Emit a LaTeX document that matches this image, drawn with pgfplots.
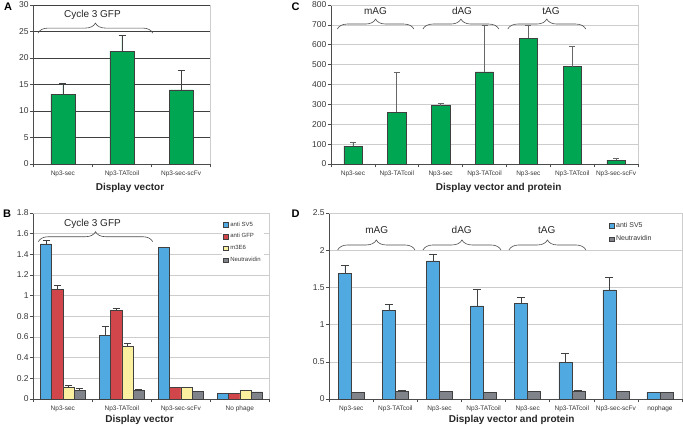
\documentclass[border=0pt]{standalone}
\usepackage{pgfplots}
\pgfplotsset{compat=1.18}
\usepackage{fontspec}
\setmainfont{Liberation Sans}
\usetikzlibrary{decorations.pathreplacing}
\definecolor{cgreen}{RGB}{0,166,81}
\definecolor{cblue}{RGB}{80,170,225}
\definecolor{cred}{RGB}{208,70,75}
\definecolor{cyellow}{RGB}{250,240,160}
\definecolor{cgray}{RGB}{128,132,138}
\definecolor{txt}{RGB}{55,55,55}
\definecolor{gridc}{RGB}{205,205,205}

\tikzset{
  brc/.style={decorate, decoration={brace, amplitude=10pt}, draw=black!70, line width=0.6pt},
  grp/.style={font=\fontsize{10}{12}\selectfont, text=black!85},
}
\pgfplotsset{
  panel/.style={
    scale only axis, anchor=south west, clip=false,
    axis x line*=bottom, axis y line*=left,
    axis line style={draw=black!70, line width=0.5pt, -},
    tick align=outside, major tick length=3.5pt,
    tick style={draw=black!70, line width=0.5pt},
    ymin=0, ymajorgrids, major grid style={draw=gridc, line width=0.5pt},
    /pgf/number format/assume math mode=true,
    yticklabel style={font=\fontsize{8.5}{9}\selectfont, text=txt, inner sep=1pt},
    xticklabel style={font=\fontsize{6.5}{7}\selectfont, text=txt},
    x tick label as interval,
    xlabel style={font=\bfseries\fontsize{10}{11}\selectfont, anchor=center, text=black!85},
    ybar=0pt,
    error bars/y dir=plus, error bars/y explicit,
    error bars/error bar style={draw=black!75, line width=0.6pt},
    error bars/error mark options={rotate=90, draw=black!75, line width=0.6pt, mark size=3.5pt},
    legend image code/.code={\draw[#1, line width=0.4pt] (0pt,-2.3pt) rectangle (4.6pt,2.3pt);},
  },
}

\begin{document}
\begin{tikzpicture}
\path[use as bounding box] (0pt,0pt) rectangle (683pt,427pt);

% ---------------- Panel A ----------------
\begin{axis}[panel, at={(33.3pt,263pt)}, width=177.4pt, height=159pt,
  xmin=-0.5, xmax=2.5, ymax=30, ytick={0,5,10,15,20,25,30},
  xtick={-0.5,0.5,1.5,2.5}, xticklabels={Np3-sec,Np3-TATcoil,Np3-sec-scFv},
  major grid style={draw=black!75, line width=0.5pt},
  bar width=24pt,
  xlabel={Display vector}, xlabel style={at={(axis description cs:0.545,-0.151)}},
]
\draw[gridc, line width=0.5pt] (rel axis cs:1,0) -- (rel axis cs:1,1);
\addplot[fill=cgreen, draw=black!75, line width=0.5pt] table[x=x,y=y,y error=e]{
x y e
0 13.2 2.0
1 21.3 2.9
2 14.0 3.7
};
\draw[brc] (axis cs:-0.42,24.7) -- (axis cs:1.52,24.7);
\node[grp] at (axis cs:0.5,28.1) {Cycle 3 GFP};
\end{axis}

% ---------------- Panel C ----------------
\begin{axis}[panel, at={(331pt,263pt)}, width=307pt, height=159pt,
  xmin=-0.5, xmax=6.5, ymax=800, ytick={0,100,200,300,400,500,600,700,800},
  xtick={-0.5,0.5,1.5,2.5,3.5,4.5,5.5,6.5},
  xticklabels={Np3-sec,Np3-TATcoil,Np3-sec,Np3-TATcoil,Np3-sec,Np3-TATcoil,Np3-sec-scFv},
  bar width=18.3pt,
  error bars/error bar style={draw=black!60, line width=0.6pt},
  error bars/error mark options={rotate=90, draw=black!60, line width=0.6pt, mark size=3pt},
  xlabel={Display vector and protein}, xlabel style={at={(axis description cs:0.546,-0.151)}},
]
\draw[gridc, line width=0.5pt] (rel axis cs:0,1) -- (rel axis cs:1,1) -- (rel axis cs:1,0);
\addplot[fill=cgreen, draw=black!75, line width=0.5pt] table[x=x,y=y,y error=e]{
x y e
0 90 19
1 260 203
2 294 10
3 463 235
4 633 67
5 490 104
6 20 10
};
\draw[brc] (axis cs:-0.356,679) -- (axis cs:1.39,679);
\draw[brc] (axis cs:1.596,679) -- (axis cs:3.327,679);
\draw[brc] (axis cs:3.53,679) -- (axis cs:5.31,679);
\node[grp] at (axis cs:0.515,770) {mAG};
\node[grp] at (axis cs:2.487,770) {dAG};
\node[grp] at (axis cs:4.516,770) {tAG};
\end{axis}

% ---------------- Panel B ----------------
\begin{axis}[panel, at={(33.3pt,28pt)}, width=236pt, height=186pt,
  xmin=-0.5, xmax=3.5, ymax=1.8, ytick={0,0.2,0.4,0.6,0.8,1,1.2,1.4,1.6,1.8},
  xtick={-0.5,0.5,1.5,2.5,3.5},
  xticklabels={Np3-sec,Np3-TATcoil,Np3-sec-scFv,No phage},
  bar width=11.2pt,
  error bars/error mark options={rotate=90, draw=black!75, line width=0.6pt, mark size=3.5pt},
  xlabel={Display vector}, xlabel style={at={(axis description cs:0.45,-0.113)}},
  legend style={at={(rel axis cs:0.80,0.97)}, anchor=north west, draw=none, fill=white,
    font=\fontsize{6}{7}\selectfont, text=txt, legend cell align=left, row sep=2pt, inner sep=1pt},
]
\draw[gridc, line width=0.5pt] (rel axis cs:0,1) -- (rel axis cs:1,1) -- (rel axis cs:1,0);
\addplot[fill=cblue, draw=black!75, line width=0.5pt] table[x=x,y=y,y error=e]{
x y e
0 1.50 0.035
1 0.615 0.09
2 1.465 0.007
3 0.058 0
};
\addlegendentry{anti SV5}
\addplot[fill=cred, draw=black!75, line width=0.5pt] table[x=x,y=y,y error=e]{
x y e
0 1.06 0.04
1 0.855 0.022
2 0.112 0.006
3 0.058 0
};
\addlegendentry{anti GFP}
\addplot[fill=cyellow, draw=black!75, line width=0.5pt] table[x=x,y=y,y error=e]{
x y e
0 0.117 0.012
1 0.512 0.026
2 0.112 0.004
3 0.080 0.007
};
\addlegendentry{m3E6}
\addplot[fill=cgray, draw=black!75, line width=0.5pt] table[x=x,y=y,y error=e]{
x y e
0 0.084 0.022
1 0.087 0.006
2 0.074 0.003
3 0.068 0
};
\addlegendentry{Neutravidin}
\draw[brc] (axis cs:-0.415,1.522) -- (axis cs:1.524,1.522);
\node[grp] at (axis cs:0.503,1.694) {Cycle 3 GFP};
\end{axis}

% ---------------- Panel D ----------------
\begin{axis}[panel, at={(329.3pt,28pt)}, width=352.7pt, height=186pt,
  xmin=-0.5, xmax=7.5, ymax=2.5, ytick={0,0.5,1,1.5,2,2.5},
  xtick={-0.5,0.5,1.5,2.5,3.5,4.5,5.5,6.5,7.5},
  xticklabels={Np3-sec,Np3-TATcoil,Np3-sec,Np3-TATcoil,Np3-sec,Np3-TATcoil,Np3-sec-scFv,nophage},
  bar width=13pt,
  error bars/error mark options={rotate=90, draw=black!75, line width=0.6pt, mark size=4pt},
  xlabel={Display vector and protein}, xlabel style={at={(axis description cs:0.517,-0.113)}},
  legend style={at={(rel axis cs:0.79,0.968)}, anchor=north west, draw=none, fill=white,
    font=\fontsize{7}{8}\selectfont, text=txt, legend cell align=left, row sep=3pt, inner sep=1pt},
]
\draw[gridc, line width=0.5pt] (rel axis cs:0,1) -- (rel axis cs:1,1) -- (rel axis cs:1,0);
\addplot[fill=cblue, draw=black!75, line width=0.5pt] table[x=x,y=y,y error=e]{
x y e
0 1.69 0.11
1 1.19 0.08
2 1.857 0.093
3 1.25 0.225
4 1.286 0.081
5 0.49 0.12
6 1.466 0.171
7 0.09 0
};
\addlegendentry{anti SV5}
\addplot[fill=cgray, draw=black!75, line width=0.5pt] table[x=x,y=y,y error=e]{
x y e
0 0.085 0.009
1 0.099 0.013
2 0.099 0
3 0.094 0
4 0.099 0
5 0.108 0.009
6 0.099 0
7 0.09 0
};
\addlegendentry{Neutravidin}
\draw[brc] (axis cs:-0.31,2.003) -- (axis cs:1.443,2.003);
\draw[brc] (axis cs:1.625,2.003) -- (axis cs:3.394,2.003);
\draw[brc] (axis cs:3.575,2.003) -- (axis cs:5.32,2.003);
\node[grp] at (axis cs:0.575,2.27) {mAG};
\node[grp] at (axis cs:2.503,2.27) {dAG};
\node[grp] at (axis cs:4.431,2.27) {tAG};
\end{axis}

% panel letters
\node[font=\bfseries\fontsize{11}{12}\selectfont] at (8pt,420pt) {A};
\node[font=\bfseries\fontsize{11}{12}\selectfont] at (7pt,213.3pt) {B};
\node[font=\bfseries\fontsize{11}{12}\selectfont] at (295.5pt,420.3pt) {C};
\node[font=\bfseries\fontsize{11}{12}\selectfont] at (295.5pt,213.3pt) {D};
\end{tikzpicture}
\end{document}
